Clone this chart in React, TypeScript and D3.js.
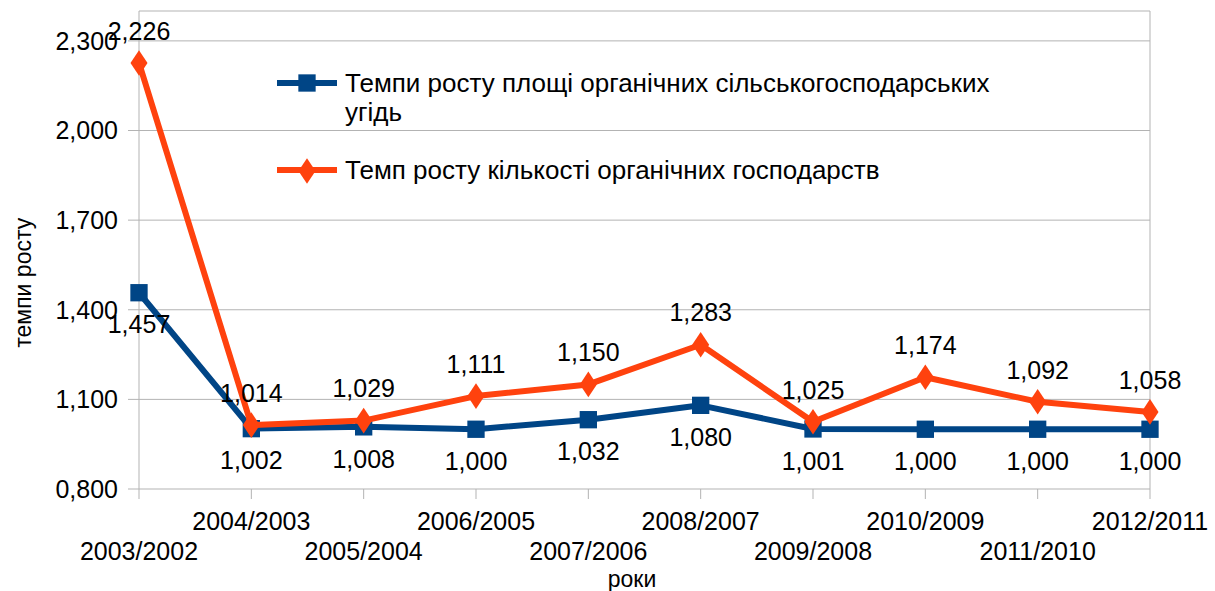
import { useEffect, useRef } from 'react';
import * as d3 from 'd3';

const years = [
  '2003/2002', '2004/2003', '2005/2004', '2006/2005', '2007/2006',
  '2008/2007', '2009/2008', '2010/2009', '2011/2010', '2012/2011',
];
const areaGrowth = [1.457, 1.002, 1.008, 1.0, 1.032, 1.08, 1.001, 1.0, 1.0, 1.0];
const farmsGrowth = [2.226, 1.014, 1.029, 1.111, 1.15, 1.283, 1.025, 1.174, 1.092, 1.058];
const yTicks = [0.8, 1.1, 1.4, 1.7, 2.0, 2.3];

const areaLabel = ['Темпи росту площі органічних сільськогосподарських', 'угідь'];
const farmsLabel = 'Темп росту кількості органічних господарств';
const yTitle = 'темпи росту';
const xTitle = 'роки';

const BLUE = '#004586';
const ORANGE = '#ff420e';
const GRID = '#b3b3b3';
const FONT = '"Liberation Sans", Arial, sans-serif';

export default function App() {
  const svgRef = useRef<SVGSVGElement>(null);
  const width = 1215;
  const height = 591;

  useEffect(() => {
    if (!svgRef.current) return;
    const svg = d3.select(svgRef.current);
    svg.selectAll('*').remove();

    const plot = { left: 139, right: 1150, top: 11, bottom: 489 };
    const fmt = d3.formatLocale({ decimal: ',', thousands: ' ', grouping: [3], currency: ['', ''] }).format('.3f');

    const x = d3.scalePoint<string>().domain(years).range([plot.left, plot.right]);
    const y = d3.scaleLinear().domain([0.8, 2.4]).range([plot.bottom, plot.top]);

    // grid + frame
    svg.append('g')
      .selectAll('line')
      .data(yTicks)
      .enter()
      .append('line')
      .attr('x1', plot.left - 11)
      .attr('x2', plot.right)
      .attr('y1', d => y(d))
      .attr('y2', d => y(d))
      .attr('stroke', GRID)
      .attr('stroke-width', 1);

    svg.append('path')
      .attr('d', `M${plot.left},${plot.bottom}V${plot.top}H${plot.right}V${plot.bottom}`)
      .attr('fill', 'none')
      .attr('stroke', GRID)
      .attr('stroke-width', 1);

    // x ticks
    svg.append('g')
      .selectAll('line')
      .data(years)
      .enter()
      .append('line')
      .attr('x1', d => x(d)!)
      .attr('x2', d => x(d)!)
      .attr('y1', plot.bottom)
      .attr('y2', plot.bottom + 10)
      .attr('stroke', GRID);

    // y tick labels
    svg.append('g')
      .selectAll('text')
      .data(yTicks)
      .enter()
      .append('text')
      .attr('x', plot.left - 21)
      .attr('y', d => y(d))
      .attr('dy', '0.35em')
      .attr('text-anchor', 'end')
      .attr('font-size', '25px')
      .style('font-family', FONT)
      .text(d => fmt(d));

    // x tick labels, staggered
    svg.append('g')
      .selectAll('text')
      .data(years)
      .enter()
      .append('text')
      .attr('x', d => x(d)!)
      .attr('y', (d, i) => (i % 2 === 0 ? 560 : 530))
      .attr('text-anchor', 'middle')
      .attr('font-size', '25px')
      .style('font-family', FONT)
      .text(d => d);

    // axis titles
    svg.append('text')
      .attr('transform', `translate(31, ${y(1.4) - 27}) rotate(-90)`)
      .attr('text-anchor', 'middle')
      .attr('font-size', '23px')
      .style('font-family', FONT)
      .text(yTitle);

    svg.append('text')
      .attr('x', 632)
      .attr('y', 587)
      .attr('text-anchor', 'middle')
      .attr('font-size', '23px')
      .style('font-family', FONT)
      .text(xTitle);

    const line = d3.line<number>()
      .x((d, i) => x(years[i])!)
      .y(d => y(d));

    const square = d3.symbol().type(d3.symbolSquare).size(300);
    const diamond = d3.symbol().type(d3.symbolDiamond).size(190);

    // blue series
    svg.append('path')
      .datum(areaGrowth)
      .attr('d', line)
      .attr('fill', 'none')
      .attr('stroke', BLUE)
      .attr('stroke-width', 6)
      .attr('stroke-linejoin', 'round');

    svg.append('g')
      .selectAll('path')
      .data(areaGrowth)
      .enter()
      .append('path')
      .attr('d', square)
      .attr('transform', (d, i) => `translate(${x(years[i])}, ${y(d)})`)
      .attr('fill', BLUE);

    // orange series
    svg.append('path')
      .datum(farmsGrowth)
      .attr('d', line)
      .attr('fill', 'none')
      .attr('stroke', ORANGE)
      .attr('stroke-width', 6)
      .attr('stroke-linejoin', 'round');

    svg.append('g')
      .selectAll('path')
      .data(farmsGrowth)
      .enter()
      .append('path')
      .attr('d', diamond)
      .attr('transform', (d, i) => `translate(${x(years[i])}, ${y(d)}) scale(1.15, 1)`)
      .attr('fill', ORANGE);

    // value labels
    svg.append('g')
      .selectAll('text')
      .data(areaGrowth)
      .enter()
      .append('text')
      .attr('x', (d, i) => x(years[i])!)
      .attr('y', d => y(d) + 32)
      .attr('dy', '0.35em')
      .attr('text-anchor', 'middle')
      .attr('font-size', '25px')
      .style('font-family', FONT)
      .text(d => fmt(d));

    svg.append('g')
      .selectAll('text')
      .data(farmsGrowth)
      .enter()
      .append('text')
      .attr('x', (d, i) => x(years[i])!)
      .attr('y', d => y(d) - 32)
      .attr('dy', '0.35em')
      .attr('text-anchor', 'middle')
      .attr('font-size', '25px')
      .style('font-family', FONT)
      .text(d => fmt(d));

    // legend
    const legend = svg.append('g');
    const lx = 277;

    legend.append('line')
      .attr('x1', lx).attr('x2', lx + 60)
      .attr('y1', 83).attr('y2', 83)
      .attr('stroke', BLUE).attr('stroke-width', 6);
    legend.append('path')
      .attr('d', square)
      .attr('transform', `translate(${lx + 30}, 83)`)
      .attr('fill', BLUE);
    legend.selectAll('.l1')
      .data(areaLabel)
      .enter()
      .append('text')
      .attr('x', lx + 68)
      .attr('y', (d, i) => 92 + i * 29)
      .attr('font-size', '26px')
      .style('font-family', FONT)
      .text(d => d);

    legend.append('line')
      .attr('x1', lx).attr('x2', lx + 60)
      .attr('y1', 170).attr('y2', 170)
      .attr('stroke', ORANGE).attr('stroke-width', 6);
    legend.append('path')
      .attr('d', diamond)
      .attr('transform', `translate(${lx + 30}, 171) scale(1.15, 1)`)
      .attr('fill', ORANGE);
    legend.append('text')
      .attr('x', lx + 68)
      .attr('y', 179)
      .attr('font-size', '26px')
      .style('font-family', FONT)
      .text(farmsLabel);
  }, []);

  return (
    <svg
      ref={svgRef}
      width={width}
      height={height}
      style={{ position: 'absolute', left: 0, top: 0, background: '#fff' }}
    />
  );
}
